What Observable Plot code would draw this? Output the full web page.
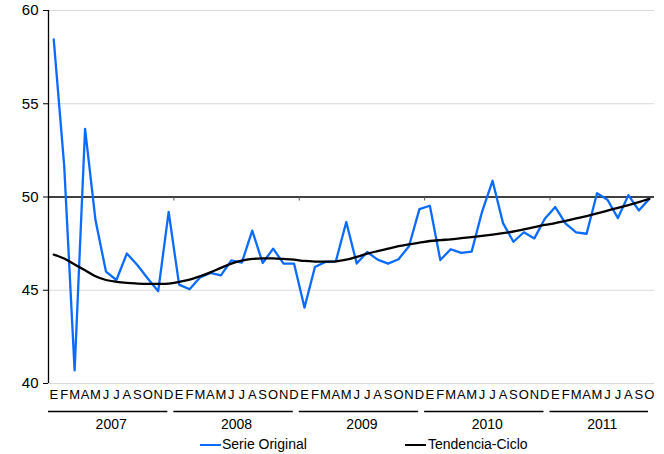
<!DOCTYPE html>
<html>
<head>
<meta charset="utf-8">
<script src="https://cdn.jsdelivr.net/npm/d3@7"></script>
<script src="https://cdn.jsdelivr.net/npm/@observablehq/plot@0.6"></script>
<style>
  body { margin: 0; background: #fff; font-family: "Liberation Sans", Arial, sans-serif; }
  #wrap { width: 664px; position: relative; }
  #legend { position: relative; height: 22px; width: 664px; font-size: 14px; color: #000; }
  .sw { position: absolute; top: 12px; width: 21px; height: 0; border-top: 2.5px solid; }
  .lb { position: absolute; top: 4px; line-height: 16px; }
</style>
</head>
<body>
<div id="wrap"></div>
<script>
const months = ["E","F","M","A","M","J","J","A","S","O","N","D"];
const years = ["2007","2008","2009","2010","2011"];
const serieOriginal = [
  58.45, 51.7, 40.7, 53.65, 48.75, 46.0, 45.55, 46.97, 46.35, 45.63, 44.95, 49.2,
  45.3, 45.05, 45.68, 45.93, 45.8, 46.6, 46.48, 48.2, 46.46, 47.23, 46.43, 46.43,
  44.07, 46.25, 46.52, 46.55, 48.66, 46.43, 47.05, 46.64, 46.43, 46.66, 47.36, 49.35,
  49.53, 46.62, 47.2, 47.0, 47.07, 49.22, 50.87, 48.6, 47.6, 48.11, 47.78, 48.83,
  49.46, 48.57, 48.1, 48.03, 50.2, 49.85, 48.87, 50.1, 49.28, 49.9
];
const tendenciaCiclo = [
  46.91, 46.7, 46.38, 46.07, 45.75, 45.55, 45.45, 45.39, 45.36, 45.34, 45.34, 45.36,
  45.45, 45.57, 45.75, 45.96, 46.2, 46.43, 46.59, 46.68, 46.71, 46.71, 46.68, 46.64,
  46.57, 46.54, 46.54, 46.55, 46.64, 46.79, 46.96, 47.1, 47.23, 47.36, 47.46, 47.55,
  47.64, 47.69, 47.73, 47.79, 47.85, 47.91, 47.98, 48.06, 48.15, 48.26, 48.38, 48.5,
  48.6, 48.72, 48.85, 48.98, 49.12, 49.27, 49.42, 49.57, 49.73, 49.9
];
const yTicks = [40, 45, 50, 55, 60];
const gridTicks = [40, 45, 55, 60];
const refLine = 50;

const n = serieOriginal.length;
const idx = d3.range(n);
const orig = idx.map(i => ({i, v: serieOriginal[i]}));
const trend = idx.map(i => ({i, v: tendenciaCiclo[i]}));
const yearRows = years.map((y, k) => {
  const start = k * 12;
  const end = Math.min(n, start + 12) - 1;
  return {year: y, start: start - 0.5, end: end + 0.5, mid: (start + end) / 2};
});
const boundaries = yearRows.slice(1).map(r => r.start);

const chart = Plot.plot({
  width: 664,
  height: 432,
  marginLeft: 48,
  marginRight: 10,
  marginTop: 10,
  marginBottom: 49,
  style: {fontFamily: '"Liberation Sans", Arial, sans-serif', color: "#000", background: "#fff"},
  x: {type: "linear", domain: [-0.5, n - 0.5]},
  y: {domain: [40, 60]},
  marks: [
    Plot.gridY(gridTicks, {stroke: "#d9d9d9", strokeOpacity: 1, strokeWidth: 1}),
    Plot.axisY(yTicks, {tickSize: 5, tickPadding: 5, fontSize: 15, label: null, stroke: "#000"}),
    Plot.axisX(idx, {tickSize: 0, tickPadding: 6, fontSize: 13, label: null, tickFormat: i => months[i % 12]}),
    Plot.ruleX([-0.5], {stroke: "#000", strokeWidth: 1.3}),
    Plot.ruleY([refLine], {stroke: "#000", strokeWidth: 1.3}),
    Plot.ruleX(boundaries, {x: d => d, y1: refLine, y2: refLine, insetBottom: -4, stroke: "#555", strokeWidth: 1}),
    Plot.ruleY(yearRows, {x1: "start", x2: "end", y: () => 40, dy: 28, insetRight: 6, stroke: "#000", strokeWidth: 1.3}),
    Plot.text(yearRows, {x: "mid", y: () => 40, dy: 41, text: "year", fontSize: 14, fill: "#000"}),
    Plot.line(orig, {x: "i", y: "v", stroke: "#0a6cff", strokeWidth: 2.3}),
    Plot.line(trend, {x: "i", y: "v", stroke: "#000", strokeWidth: 2.3, curve: "catmull-rom"})
  ]
});

const wrap = document.getElementById("wrap");
wrap.appendChild(chart);
const legend = document.createElement("div");
legend.id = "legend";
legend.innerHTML = `
  <span class="sw" style="left:200px;border-color:#0a6cff"></span><span class="lb" style="left:222px">Serie Original</span>
  <span class="sw" style="left:405px;border-color:#000"></span><span class="lb" style="left:428px">Tendencia-Ciclo</span>`;
wrap.appendChild(legend);
</script>
</body>
</html>
